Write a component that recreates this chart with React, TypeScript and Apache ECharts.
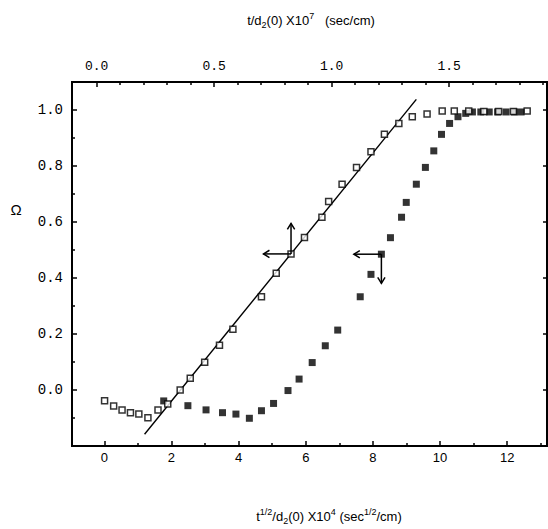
import React, { useEffect, useRef } from "react";
import * as echarts from "echarts";

// Open squares: t/d2(0) (plotted on the bottom scale)
const openX = [0.0, 0.27, 0.52, 0.77, 1.02, 1.29, 1.59, 1.88, 2.25, 2.55, 2.98, 3.42, 3.82, 4.67, 5.11, 5.55, 5.95, 6.47, 6.67, 7.07, 7.5, 7.93, 8.33, 8.76, 9.16, 9.6, 10.05, 10.41, 10.84, 11.29, 11.73, 12.17, 12.58];
const openY = [-0.038, -0.057, -0.071, -0.081, -0.086, -0.099, -0.071, -0.05, 0.0, 0.042, 0.099, 0.16, 0.217, 0.333, 0.417, 0.486, 0.545, 0.617, 0.673, 0.735, 0.795, 0.851, 0.913, 0.952, 0.976, 0.986, 0.996, 0.996, 0.996, 0.995, 0.995, 0.995, 0.996];

// Filled squares: t^1/2/d2(0)
const filledX = [1.76, 2.48, 3.02, 3.51, 3.91, 4.31, 4.67, 5.03, 5.46, 5.79, 6.18, 6.57, 6.94, 7.61, 7.93, 8.24, 8.51, 8.84, 8.98, 9.28, 9.55, 9.8, 10.03, 10.27, 10.52, 10.75, 10.95, 11.2, 11.45, 11.7, 11.95, 12.2, 12.4];
const filledY = [-0.039, -0.056, -0.071, -0.081, -0.086, -0.101, -0.074, -0.048, -0.002, 0.039, 0.098, 0.158, 0.214, 0.333, 0.413, 0.485, 0.544, 0.617, 0.67, 0.735, 0.795, 0.854, 0.913, 0.952, 0.976, 0.988, 0.993, 0.993, 0.993, 0.993, 0.993, 0.993, 0.993];

// Fitted straight line through the open squares
const fitX = [1.19, 9.28];
const fitY = [-0.158, 1.038];

// Arrows: [fromX, fromY, toX, toY]
const arrowFromX = [5.55, 5.55, 8.24, 8.24];
const arrowFromY = [0.486, 0.486, 0.485, 0.485];
const arrowToX = [4.73, 5.55, 7.42, 8.24];
const arrowToY = [0.486, 0.595, 0.485, 0.381];

// Axes tick labels
const yTicksMajor = [0.0, 0.2, 0.4, 0.6, 0.8, 1.0];
const bottomTicks = [0, 2, 4, 6, 8, 10, 12];
const topTicks = [0.0, 0.5, 1.0, 1.5];

const BLACK = "#000";

export default function App() {
  const ref = useRef<HTMLDivElement>(null);

  useEffect(() => {
    if (!ref.current) return;
    const chart = echarts.init(ref.current, undefined, { renderer: "svg" });

    const hiddenAxis = {
      axisLine: { show: false, onZero: false },
      axisTick: { show: false },
      axisLabel: { show: false },
      splitLine: { show: false },
    };

    const tickLine = { color: BLACK, width: 1.5 };
    const near = (v: number, arr: number[]) => arr.some((a) => Math.abs(a - v) < 1e-6);

    const richStyles = {
      n: { fontSize: 13, fontFamily: "Liberation Sans", lineHeight: 18, color: BLACK, fill: BLACK },
      sub: { fontSize: 9, fontFamily: "Liberation Sans", lineHeight: 9, verticalAlign: "bottom", color: BLACK, fill: BLACK },
      sup: { fontSize: 9, fontFamily: "Liberation Sans", lineHeight: 9, verticalAlign: "top", color: BLACK, fill: BLACK },
    };

    const gridBase = { outerBoundsMode: "none", containLabel: false };

    const option: any = {
      animation: false,
      backgroundColor: "#fff",
      grid: [
        {
          // main plot area
          left: 72,
          top: 82,
          width: 475,
          height: 364,
          show: true,
          borderColor: BLACK,
          borderWidth: 2,
          backgroundColor: "transparent",
          ...gridBase,
        },
        // bottom tick scale (0..14)
        { left: 104.3, top: 82, width: 470.1, height: 364, ...gridBase },
        // top tick scale (0..2)
        { left: 96.7, top: 82, width: 470, height: 364, ...gridBase },
        // y tick scale (-0.2..1.0)
        { left: 72, top: 110, width: 475, height: 336, ...gridBase },
      ],
      xAxis: [
        { gridIndex: 0, type: "value", min: -0.97, max: 13.17, ...hiddenAxis },
        {
          gridIndex: 1,
          type: "value",
          position: "bottom",
          min: 0,
          max: 14,
          interval: 2,
          axisLine: { show: false, onZero: false },
          axisTick: { show: true, inside: true, length: 5, lineStyle: tickLine },
          minorTick: { show: true, splitNumber: 2, length: 3, lineStyle: tickLine },
          axisLabel: {
            show: true,
            margin: 5,
            color: BLACK,
            fontFamily: "Liberation Sans",
            fontSize: 13,
            formatter: (v: number) => (near(v, bottomTicks) ? String(v) : ""),
          },
          splitLine: { show: false },
        },
        {
          gridIndex: 2,
          type: "value",
          position: "top",
          min: 0,
          max: 2,
          interval: 0.5,
          axisLine: { show: false, onZero: false },
          axisTick: { show: true, inside: true, length: 5, lineStyle: tickLine },
          minorTick: { show: true, splitNumber: 5, length: 3, lineStyle: tickLine },
          axisLabel: {
            show: true,
            margin: 9,
            color: BLACK,
            fontFamily: "Liberation Mono",
            fontSize: 13,
            formatter: (v: number) => (near(v, topTicks) ? v.toFixed(1) : ""),
          },
          splitLine: { show: false },
        },
        { gridIndex: 3, type: "value", min: 0, max: 1, ...hiddenAxis },
      ],
      yAxis: [
        { gridIndex: 0, type: "value", min: -0.2, max: 1.1, ...hiddenAxis },
        { gridIndex: 1, type: "value", min: 0, max: 1, ...hiddenAxis },
        { gridIndex: 2, type: "value", min: 0, max: 1, ...hiddenAxis },
        {
          gridIndex: 3,
          type: "value",
          position: "left",
          min: -0.2,
          max: 1.0,
          interval: 0.2,
          axisLine: { show: false, onZero: false },
          axisTick: { show: true, inside: true, length: 5, lineStyle: tickLine },
          minorTick: { show: true, splitNumber: 2, length: 3, lineStyle: tickLine },
          axisLabel: {
            show: true,
            margin: 9,
            color: BLACK,
            fontFamily: "Liberation Mono",
            fontSize: 14,
            formatter: (v: number) => (near(v, yTicksMajor) ? v.toFixed(1) : ""),
          },
          splitLine: { show: false },
        },
        {
          gridIndex: 3,
          type: "value",
          position: "right",
          min: -0.2,
          max: 1.0,
          interval: 0.2,
          axisLine: { show: false, onZero: false },
          axisTick: { show: true, inside: true, length: 4, lineStyle: tickLine },
          axisLabel: { show: false },
          splitLine: { show: false },
        },
      ],
      graphic: [
        {
          type: "text",
          x: 311,
          y: 20,
          style: {
            text: "{n|t/d}{sub|2}{n|(0) X10}{sup|7}{n|   (sec/cm)}",
            align: "center",
            verticalAlign: "middle",
            textAlign: "center",
            textVerticalAlign: "middle",
            fill: BLACK,
            rich: richStyles,
          },
        },
        {
          type: "text",
          x: 329,
          y: 516,
          style: {
            text: "{n|t}{sup|1/2}{n|/d}{sub|2}{n|(0) X10}{sup|4}{n| (sec}{sup|1/2}{n|/cm)}",
            align: "center",
            verticalAlign: "middle",
            textAlign: "center",
            textVerticalAlign: "middle",
            fill: BLACK,
            rich: richStyles,
          },
        },
        {
          type: "text",
          x: 16,
          y: 209,
          style: {
            text: "Ω",
            align: "center",
            verticalAlign: "middle",
            textAlign: "center",
            textVerticalAlign: "middle",
            fontSize: 15,
            fontFamily: "Liberation Sans",
            fill: BLACK,
          },
        },
      ],
      series: [
        {
          name: "filled",
          type: "scatter",
          xAxisIndex: 0,
          yAxisIndex: 0,
          symbol: "rect",
          symbolSize: 7,
          itemStyle: { color: BLACK },
          data: filledX.map((x, i) => [x, filledY[i]]),
          z: 3,
        },
        {
          name: "fit",
          type: "line",
          xAxisIndex: 0,
          yAxisIndex: 0,
          symbol: "none",
          lineStyle: { color: BLACK, width: 1.4 },
          data: fitX.map((x, i) => [x, fitY[i]]),
          z: 4,
        },
        {
          name: "open",
          type: "scatter",
          xAxisIndex: 0,
          yAxisIndex: 0,
          symbol: "rect",
          symbolSize: 6,
          itemStyle: { color: "#fff", borderColor: BLACK, borderWidth: 1.5 },
          data: openX.map((x, i) => [x, openY[i]]),
          z: 5,
        },
        {
          name: "arrows",
          type: "custom",
          xAxisIndex: 0,
          yAxisIndex: 0,
          encode: { x: [0, 2], y: [1, 3] },
          data: arrowFromX.map((x, i) => [x, arrowFromY[i], arrowToX[i], arrowToY[i]]),
          z: 6,
          renderItem: (_params: any, api: any) => {
            const p0 = api.coord([api.value(0), api.value(1)]);
            const p1 = api.coord([api.value(2), api.value(3)]);
            const ang = Math.atan2(p1[1] - p0[1], p1[0] - p0[0]);
            const L = 7;
            const W = 0.55;
            const h1 = [p1[0] - L * Math.cos(ang - W), p1[1] - L * Math.sin(ang - W)];
            const h2 = [p1[0] - L * Math.cos(ang + W), p1[1] - L * Math.sin(ang + W)];
            return {
              type: "group",
              children: [
                {
                  type: "line",
                  shape: { x1: p0[0], y1: p0[1], x2: p1[0], y2: p1[1] },
                  style: { stroke: BLACK, lineWidth: 1.5 },
                },
                {
                  type: "polyline",
                  shape: { points: [h1, p1, h2] },
                  style: { stroke: BLACK, fill: "none", lineWidth: 1.5 },
                },
              ],
            };
          },
        },
      ],
    };

    chart.setOption(option);
    return () => {
      chart.dispose();
    };
  }, []);

  return (
    <div
      ref={ref}
      style={{ position: "fixed", left: 0, top: 0, width: 548, height: 529, background: "#fff" }}
    />
  );
}
